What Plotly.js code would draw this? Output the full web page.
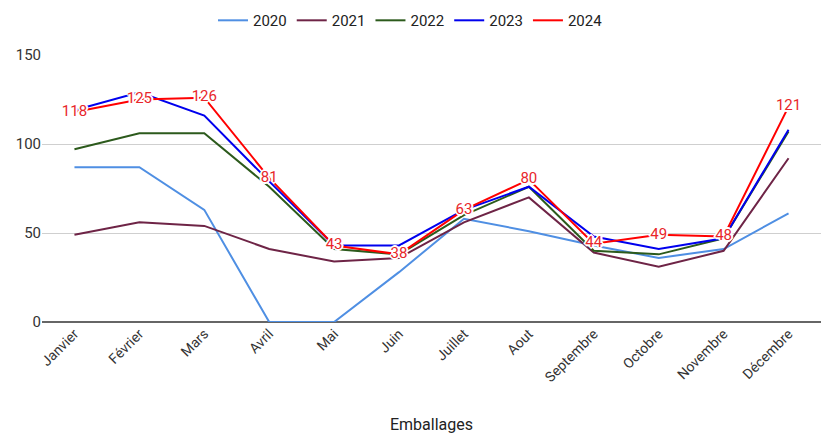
<!DOCTYPE html>
<html>
<head>
<meta charset="utf-8">
<script src="https://cdn.plot.ly/plotly-3.0.1.min.js"></script>
<style>html,body{margin:0;padding:0;background:#fff;}#chart{width:821px;height:436px;}</style>
</head>
<body>
<div id="chart"></div>
<script>
const months = ["Janvier","Février","Mars","Avril","Mai","Juin","Juillet","Aout","Septembre","Octobre","Novembre","Décembre"];
const y2020 = [87, 87, 63, 0, 0, 28, 58, 51, 43, 36, 41, 61];
const y2021 = [49, 56, 54, 41, 34, 36, 56, 70, 39, 31, 40, 92];
const y2022 = [97, 106, 106, 76, 41, 38, 60, 76, 40, 38, 47, 107];
const y2023 = [119, 129, 116, 79, 43, 43, 63, 76, 48, 41, 47, 108];
const y2024 = [118, 125, 126, 81, 43, 38, 63, 80, 44, 49, 48, 121];

const seriesNames = ["2020","2021","2022","2023","2024"];
const seriesData = [y2020, y2021, y2022, y2023, y2024];
const seriesColors = ["#4f8fe3","#6e2446","#2c5a1c","#0000ee","#ff0000"];

const traces = seriesData.map((d, i) => {
  const t = {
    type: "scatter",
    mode: "lines",
    name: seriesNames[i],
    x: months,
    y: d,
    line: {color: seriesColors[i], width: 2}
  };
  if (i === 4) {
    t.mode = "lines+text";
    t.text = d.map(String);
    t.textposition = "middle center";
    t.textfont = {family: "Roboto, Arial, sans-serif", size: 15, color: "#e8262b",
      shadow: "2px 0 0 #fff, -2px 0 0 #fff, 0 2px 0 #fff, 0 -2px 0 #fff, 1px 1px 0 #fff, -1px -1px 0 #fff, 1px -1px 0 #fff, -1px 1px 0 #fff"};
  }
  return t;
});

const layout = {
  width: 821, height: 436,
  margin: {l: 42, r: 0, t: 55, b: 114},
  paper_bgcolor: "#fff", plot_bgcolor: "#fff",
  font: {family: "Roboto, Arial, sans-serif", color: "#222"},
  showlegend: true,
  legend: {orientation: "h", x: 0.5, xanchor: "center", y: 0.915, yanchor: "bottom",
           xref: "container", yref: "container",
           font: {size: 15, color: "#222"}, itemwidth: 30, traceorder: "normal"},
  xaxis: {
    type: "category", range: [-0.5, 11.5],
    tickangle: -45, tickfont: {size: 14, color: "#333"},
    showgrid: false, showline: false, zeroline: false, ticks: "",
    title: {text: "Emballages", font: {size: 16, color: "#222"}, standoff: 34}
  },
  yaxis: {
    range: [0, 150], tickvals: [0, 50, 100, 150],
    tickfont: {size: 15, color: "#333"},
    gridcolor: "#cfcfcf", gridwidth: 1,
    zeroline: true, zerolinecolor: "#666", zerolinewidth: 2,
    ticks: "", ticklen: 0, showline: false
  }
};

Plotly.newPlot("chart", traces, layout, {displayModeBar: false, staticPlot: true});
</script>
</body>
</html>
